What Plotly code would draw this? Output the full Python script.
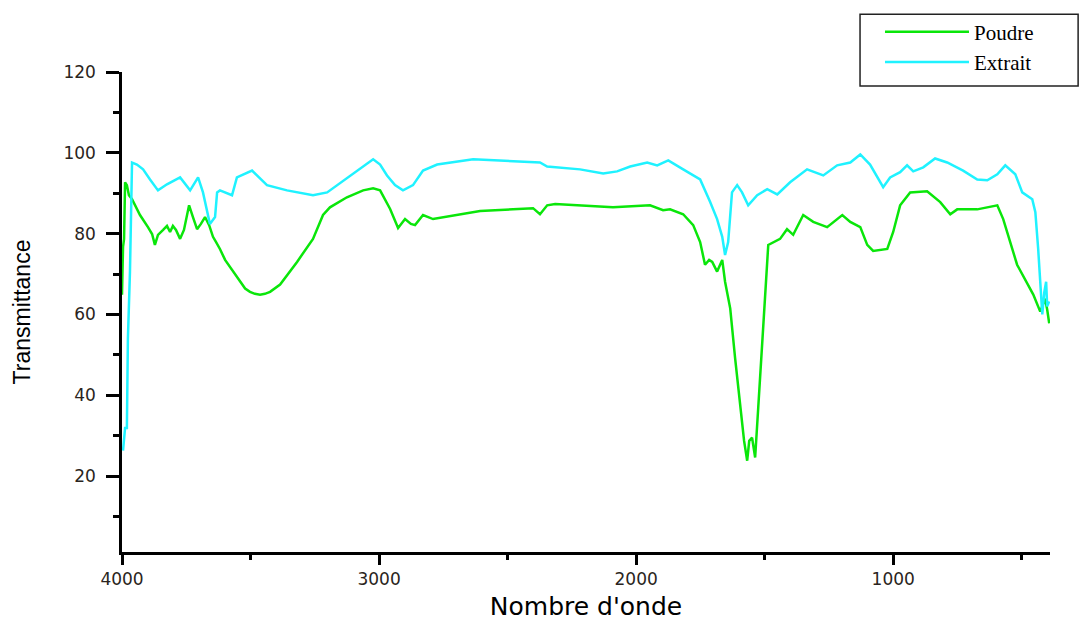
import plotly.graph_objects as go

# FTIR spectra: wavenumber (cm-1) and transmittance (%)
poudre_wn = [4000, 3996, 3992, 3988, 3981, 3973, 3961, 3930, 3899, 3883, 3872, 3860,
             3840, 3825, 3813, 3802, 3790, 3774, 3759, 3739, 3724, 3708, 3693, 3677,
             3661, 3646, 3634, 3619, 3599, 3580, 3560, 3541, 3521, 3502, 3483, 3463,
             3444, 3424, 3385, 3319, 3257, 3218, 3191, 3125, 3062, 3023, 2996, 2957,
             2926, 2899, 2876, 2860, 2829, 2790, 2607, 2401, 2374, 2346, 2315, 2090,
             1985, 1946, 1895, 1868, 1817, 1778, 1751, 1732, 1716, 1704, 1685, 1665,
             1654, 1634, 1615, 1595, 1580, 1568, 1560, 1549, 1537, 1525, 1506, 1486,
             1440, 1413, 1389, 1350, 1311, 1257, 1198, 1167, 1128, 1101, 1078, 1023,
             1000, 973, 934, 868, 817, 778, 751, 673, 595, 572, 518, 455, 428, 409,
             401, 393]
poudre_t = [64.9, 76.7, 78.7, 92.7, 92.0, 89.5, 88.5, 84.6, 81.6, 79.9, 77.2, 79.7,
            80.9, 81.9, 80.4, 81.9, 80.9, 78.7, 80.9, 87.0, 84.1, 81.1, 82.4, 84.1,
            82.1, 79.2, 77.9, 76.2, 73.5, 71.8, 70.1, 68.1, 66.4, 65.6, 65.1, 64.9,
            65.1, 65.6, 67.4, 73.0, 78.7, 84.6, 86.5, 89.0, 90.7, 91.2, 90.7, 86.1,
            81.4, 83.6, 82.4, 82.1, 84.6, 83.6, 85.6, 86.3, 84.8, 87.0, 87.3, 86.5,
            87.0, 87.0, 85.8, 86.0, 84.8, 82.1, 77.9, 72.3, 73.5, 73.0, 70.6, 73.5,
            68.1, 61.5, 49.2, 36.9, 28.7, 23.8, 28.7, 29.5, 24.6, 36.9, 57.5, 77.2,
            78.7, 81.1, 79.7, 84.6, 82.9, 81.6, 84.6, 82.9, 81.6, 77.2, 75.7, 76.2,
            80.4, 87.0, 90.2, 90.5, 87.8, 84.8, 86.0, 86.0, 87.0, 83.6, 72.3, 64.9,
            60.7, 63.9, 61.2, 57.8]

extrait_wn = [3996, 3988, 3981, 3977, 3969, 3965, 3961, 3942, 3918, 3891, 3860, 3825,
              3774, 3735, 3704, 3685, 3658, 3638, 3630, 3619, 3572, 3553, 3494, 3436,
              3358, 3257, 3202, 3023, 2996, 2969, 2938, 2907, 2868, 2829, 2774, 2634,
              2479, 2374, 2346, 2218, 2128, 2074, 2023, 1957, 1918, 1875, 1817, 1751,
              1712, 1685, 1665, 1654, 1642, 1627, 1607, 1588, 1564, 1529, 1490, 1451,
              1401, 1335, 1272, 1218, 1167, 1128, 1090, 1039, 1012, 973, 946, 922,
              883, 837, 790, 728, 673, 634, 595, 564, 525, 498, 459, 447, 436, 428,
              420, 412, 405, 401, 393]
extrait_t = [26.3, 31.9, 31.9, 54.1, 70.6, 87.8, 97.6, 97.1, 95.9, 93.4, 90.7, 92.2,
             93.9, 90.7, 93.9, 90.2, 82.4, 84.1, 90.2, 90.7, 89.5, 93.9, 95.6, 92.0,
             90.7, 89.5, 90.2, 98.4, 97.1, 94.4, 92.0, 90.7, 92.0, 95.6, 97.1, 98.4,
             97.9, 97.6, 96.6, 95.9, 94.9, 95.4, 96.6, 97.6, 96.9, 98.1, 95.9, 93.4,
             87.8, 83.6, 79.2, 74.7, 77.9, 90.2, 92.0, 90.2, 87.0, 89.5, 91.0, 89.7,
             92.7, 95.9, 94.4, 96.9, 97.6, 99.6, 97.1, 91.5, 93.9, 95.2, 96.9, 95.4,
             96.4, 98.6, 97.6, 95.6, 93.4, 93.2, 94.7, 96.9, 94.7, 90.2, 88.5, 85.3,
             76.2, 66.4, 60.0, 65.6, 68.1, 62.0, 63.2]

x_ticks = [4000, 3000, 2000, 1000]
y_ticks = [20, 40, 60, 80, 100, 120]

fig = go.Figure()
fig.add_trace(go.Scatter(x=poudre_wn, y=poudre_t, mode="lines", name="Poudre",
                         line=dict(color="#0ae60a", width=2.5)))
fig.add_trace(go.Scatter(x=extrait_wn, y=extrait_t, mode="lines", name="Extrait",
                         line=dict(color="#1ff2ff", width=2.5)))

tick_font = dict(family="DejaVu Sans", size=17, color="#2a2420")

# frame around the legend
fig.add_shape(type="rect", xref="paper", yref="paper",
              x0=0.7953, x1=1.0303, y0=0.9710, y1=1.1201,
              line=dict(color="#222", width=1.5), fillcolor="rgba(0,0,0,0)")

fig.update_layout(
    width=1080, height=621,
    margin=dict(l=122, r=30, t=69, b=69),
    paper_bgcolor="white", plot_bgcolor="white",
    showlegend=True,
    legend=dict(
        x=0.8168, y=1.126, xanchor="left", yanchor="top",
        bgcolor="rgba(0,0,0,0)", borderwidth=0,
        font=dict(family="Liberation Serif", size=21, color="black"),
        itemwidth=84, tracegroupgap=0,
    ),
    xaxis=dict(
        range=[4000, 390], tickvals=x_ticks, ticktext=[str(v) for v in x_ticks],
        automargin=False,
        showline=True, linecolor="black", linewidth=2.5, mirror=False,
        ticks="outside", ticklen=10, tickwidth=2.5, tickcolor="black",
        minor=dict(tickvals=[3500, 2500, 1500, 500], ticks="outside", ticklen=5,
                   tickwidth=2.5, tickcolor="black"),
        showgrid=False, zeroline=False, tickfont=tick_font,
        title=dict(text="Nombre d'onde", standoff=16,
                   font=dict(family="DejaVu Sans", size=25, color="black")),
    ),
    yaxis=dict(
        range=[1.2, 120], tickvals=y_ticks, ticktext=[str(v) for v in y_ticks],
        automargin=False,
        showline=True, linecolor="black", linewidth=2.5, mirror=False,
        ticks="outside", ticklen=13, tickwidth=2.5, tickcolor="black",
        ticklabelstandoff=7,
        minor=dict(tickvals=[10, 30, 50, 70, 90, 110], ticks="outside", ticklen=6,
                   tickwidth=2.5, tickcolor="black"),
        showgrid=False, zeroline=False, tickfont=tick_font,
        title=dict(text="Transmittance", standoff=27,
                   font=dict(family="Liberation Sans", size=23, color="black")),
    ),
)

fig.write_html("out.html")
